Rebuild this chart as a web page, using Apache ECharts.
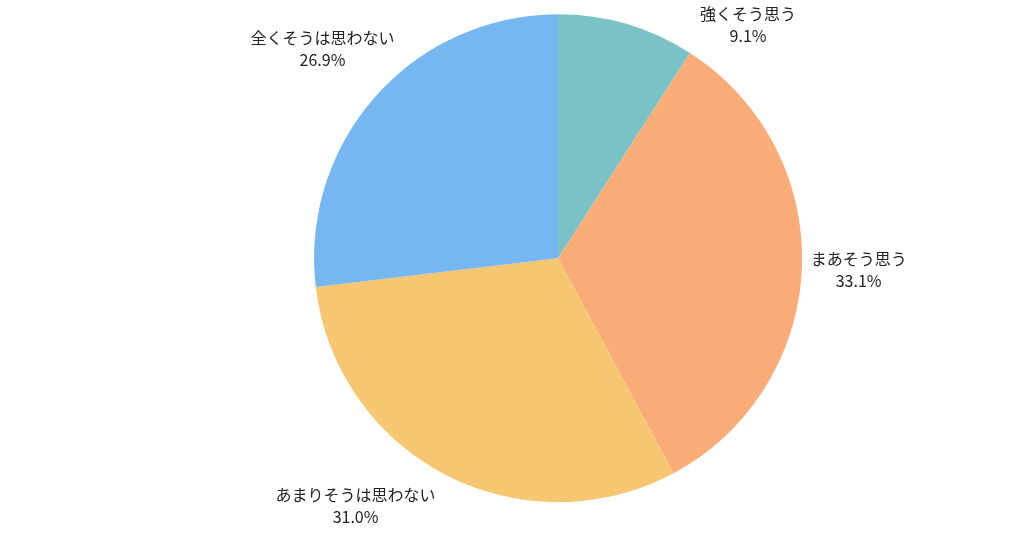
<!DOCTYPE html>
<html>
<head>
<meta charset="utf-8">
<script src="https://cdn.jsdelivr.net/npm/echarts@6/dist/echarts.min.js"></script>
<style>
html,body{margin:0;padding:0;background:#fff;}
#main{width:1024px;height:538px;}
</style>
</head>
<body>
<div id="main"></div>
<script>
const categories = ['強くそう思う', 'まあそう思う', 'あまりそうは思わない', '全くそうは思わない'];
const values = [9.1, 33.1, 31.0, 26.9];
const colors = ['#7BC2C6', '#F9AC78', '#F7C671', '#76B7F2'];

const chart = echarts.init(document.getElementById('main'));
const CX = 0.545, CY = 0.48, RADIUS = 244;
const total = values.reduce((a, b) => a + b, 0);

function labelLayout(params) {
  const W = chart.getWidth(), H = chart.getHeight();
  const cx = W * CX, cy = H * CY, r = RADIUS;
  const i = params.dataIndex;
  let before = 0;
  for (let k = 0; k < i; k++) before += values[k];
  const mid = (before + values[i] / 2) / total * Math.PI * 2;
  const lw = params.labelRect.width, lh = params.labelRect.height;
  const R = r + 28 + 0.3 * lw;
  let x = cx + R * Math.sin(mid);
  let y = cy - R * Math.cos(mid);
  const minY = lh / 2 + 3, maxY = H - lh / 2 - 10;
  if (y < minY || y > maxY) {
    y = Math.min(Math.max(y, minY), maxY);
    const dy = y - cy;
    const dx = Math.sqrt(Math.max(R * R - dy * dy, 0));
    x = cx + (Math.sin(mid) >= 0 ? 1 : -1) * dx;
  }
  return { x: x, y: y, align: 'center', verticalAlign: 'middle' };
}

chart.setOption({
  animation: false,
  color: colors,
  series: [{
    type: 'pie',
    center: [CX * 100 + '%', CY * 100 + '%'],
    radius: RADIUS,
    startAngle: 90,
    clockwise: true,
    avoidLabelOverlap: false,
    data: categories.map((c, i) => ({ name: c, value: values[i] })),
    itemStyle: { borderWidth: 0 },
    label: {
      show: true,
      position: 'outside',
      formatter: p => p.name + '\n' + p.value.toFixed(1) + '%',
      fontFamily: '"Noto Sans CJK JP", "Noto Sans", sans-serif',
      fontSize: 16,
      lineHeight: 22,
      color: '#222'
    },
    labelLine: { show: false },
    labelLayout: labelLayout,
    emphasis: { disabled: true }
  }]
});
</script>
</body>
</html>
